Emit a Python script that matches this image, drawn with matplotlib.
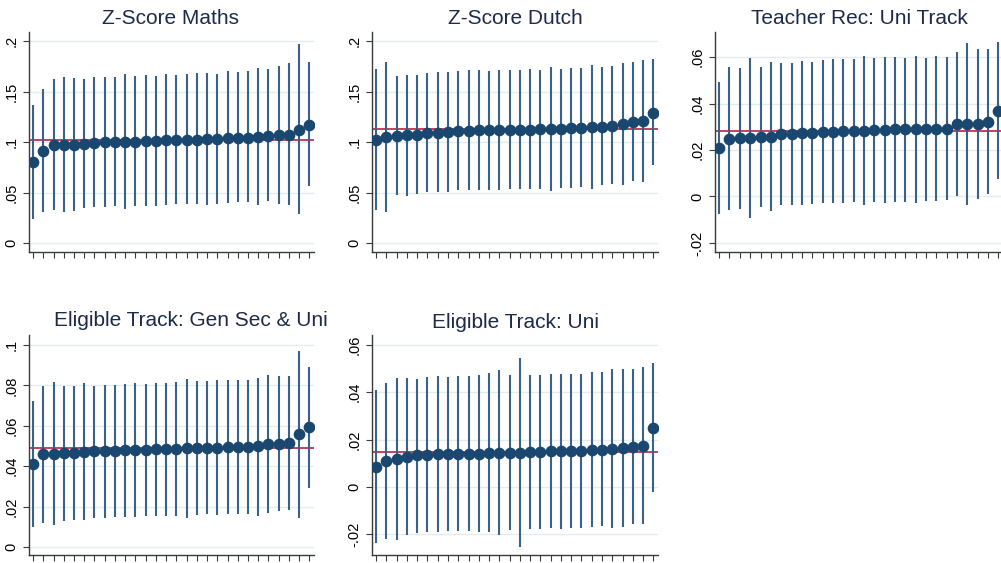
import numpy as np
import matplotlib
matplotlib.use("Agg")
import matplotlib.pyplot as plt

plt.rcParams['font.family'] = ['Liberation Sans', 'DejaVu Sans']

# Z-Score Maths
maths_est = [0.0801, 0.0913, 0.0969, 0.0972, 0.0975, 0.0982, 0.0995, 0.0998, 0.1002, 0.1005,
             0.1005, 0.1008, 0.1008, 0.1018, 0.1018, 0.1021, 0.1025, 0.1028, 0.1028, 0.1041,
             0.1041, 0.1041, 0.1054, 0.1061, 0.1068, 0.1074, 0.1124, 0.1173]
maths_lo = [0.0237, 0.0306, 0.0323, 0.0303, 0.0320, 0.0343, 0.0353, 0.0356, 0.0362, 0.0339,
            0.0362, 0.0366, 0.0369, 0.0379, 0.0382, 0.0382, 0.0382, 0.0379, 0.0389, 0.0395,
            0.0402, 0.0402, 0.0379, 0.0412, 0.0389, 0.0379, 0.0287, 0.0560]
maths_hi = [0.1367, 0.1526, 0.1621, 0.1647, 0.1638, 0.1624, 0.1641, 0.1647, 0.1647, 0.1674,
            0.1654, 0.1661, 0.1657, 0.1671, 0.1667, 0.1677, 0.1684, 0.1684, 0.1677, 0.1700,
            0.1694, 0.1700, 0.1730, 0.1723, 0.1756, 0.1779, 0.1970, 0.1789]
maths_ref = 0.1021

# Z-Score Dutch
dutch_est = [0.1021, 0.1048, 0.1061, 0.1068, 0.1074, 0.1094, 0.1094, 0.1100, 0.1114, 0.1114,
             0.1117, 0.1117, 0.1120, 0.1120, 0.1124, 0.1124, 0.1127, 0.1130, 0.1130, 0.1137,
             0.1143, 0.1147, 0.1150, 0.1163, 0.1176, 0.1199, 0.1206, 0.1292]
dutch_lo = [0.0323, 0.0310, 0.0474, 0.0468, 0.0481, 0.0501, 0.0501, 0.0507, 0.0527, 0.0527,
            0.0527, 0.0527, 0.0527, 0.0534, 0.0534, 0.0534, 0.0534, 0.0517, 0.0544, 0.0547,
            0.0554, 0.0534, 0.0570, 0.0580, 0.0573, 0.0610, 0.0600, 0.0771]
dutch_hi = [0.1720, 0.1789, 0.1651, 0.1667, 0.1667, 0.1684, 0.1694, 0.1694, 0.1703, 0.1710,
            0.1713, 0.1707, 0.1713, 0.1713, 0.1717, 0.1720, 0.1713, 0.1743, 0.1720, 0.1730,
            0.1733, 0.1763, 0.1743, 0.1756, 0.1786, 0.1792, 0.1812, 0.1819]
dutch_ref = 0.1133

# Teacher Rec: Uni Track
teach_est = [0.0208, 0.0247, 0.0250, 0.0250, 0.0254, 0.0258, 0.0267, 0.0267, 0.0273, 0.0273,
             0.0277, 0.0278, 0.0281, 0.0284, 0.0284, 0.0286, 0.0286, 0.0289, 0.0289, 0.0289,
             0.0289, 0.0291, 0.0291, 0.0310, 0.0311, 0.0311, 0.0320, 0.0370]
teach_lo = [-0.0076, -0.0060, -0.0055, -0.0093, -0.0047, -0.0063, -0.0037, -0.0036, -0.0037, -0.0033,
            -0.0030, -0.0029, -0.0027, -0.0024, -0.0037, -0.0023, -0.0027, -0.0023, -0.0022, -0.0029,
            -0.0020, -0.0020, -0.0017, 0.0000, -0.0036, -0.0010, 0.0010, 0.0075]
teach_hi = [0.0494, 0.0557, 0.0554, 0.0596, 0.0557, 0.0581, 0.0576, 0.0576, 0.0584, 0.0581,
            0.0586, 0.0590, 0.0591, 0.0591, 0.0603, 0.0594, 0.0599, 0.0599, 0.0596, 0.0603,
            0.0597, 0.0603, 0.0600, 0.0623, 0.0660, 0.0633, 0.0634, 0.0667]
teach_ref = 0.0281

# Eligible Track: Gen Sec & Uni
gsu_est = [0.0413, 0.0460, 0.0461, 0.0463, 0.0466, 0.0471, 0.0473, 0.0473, 0.0473, 0.0478,
           0.0478, 0.0479, 0.0483, 0.0483, 0.0484, 0.0489, 0.0489, 0.0491, 0.0491, 0.0493,
           0.0496, 0.0496, 0.0498, 0.0511, 0.0512, 0.0514, 0.0559, 0.0593]
gsu_lo = [0.0099, 0.0121, 0.0107, 0.0129, 0.0132, 0.0132, 0.0145, 0.0144, 0.0147, 0.0150,
          0.0147, 0.0152, 0.0154, 0.0154, 0.0155, 0.0144, 0.0159, 0.0162, 0.0160, 0.0162,
          0.0165, 0.0165, 0.0155, 0.0169, 0.0177, 0.0185, 0.0144, 0.0294]
gsu_hi = [0.0722, 0.0797, 0.0815, 0.0797, 0.0797, 0.0813, 0.0798, 0.0802, 0.0800, 0.0808,
          0.0810, 0.0808, 0.0813, 0.0813, 0.0815, 0.0833, 0.0820, 0.0820, 0.0825, 0.0825,
          0.0826, 0.0826, 0.0836, 0.0850, 0.0846, 0.0845, 0.0972, 0.0891]
gsu_ref = 0.0491

# Eligible Track: Uni
uni_est = [0.0085, 0.0109, 0.0116, 0.0127, 0.0133, 0.0136, 0.0137, 0.0137, 0.0138, 0.0140,
           0.0140, 0.0143, 0.0143, 0.0143, 0.0145, 0.0147, 0.0147, 0.0150, 0.0150, 0.0150,
           0.0150, 0.0155, 0.0157, 0.0161, 0.0164, 0.0169, 0.0174, 0.0250]
uni_lo = [-0.0236, -0.0219, -0.0223, -0.0205, -0.0193, -0.0192, -0.0191, -0.0188, -0.0186, -0.0186,
          -0.0191, -0.0191, -0.0205, -0.0181, -0.0254, -0.0178, -0.0178, -0.0175, -0.0176, -0.0175,
          -0.0175, -0.0169, -0.0165, -0.0172, -0.0169, -0.0155, -0.0155, -0.0021]
uni_hi = [0.0409, 0.0438, 0.0459, 0.0459, 0.0457, 0.0463, 0.0467, 0.0466, 0.0467, 0.0469,
          0.0474, 0.0480, 0.0493, 0.0472, 0.0546, 0.0472, 0.0473, 0.0476, 0.0477, 0.0477,
          0.0477, 0.0486, 0.0487, 0.0497, 0.0498, 0.0497, 0.0505, 0.0524]
uni_ref = 0.0147

titles = ["Z-Score Maths", "Z-Score Dutch", "Teacher Rec: Uni Track",
          "Eligible Track: Gen Sec & Uni", "Eligible Track: Uni"]
ticks_a = [0, 0.05, 0.1, 0.15, 0.2]
labels_a = ["0", ".05", ".1", ".15", ".2"]
ticks_b = [-0.02, 0, 0.02, 0.04, 0.06]
labels_b = ["-.02", "0", ".02", ".04", ".06"]
ticks_c = [0, 0.02, 0.04, 0.06, 0.08, 0.1]
labels_c = ["0", ".02", ".04", ".06", ".08", ".1"]

W, H = 1001, 563

# (left, right, top, bottom) in pixels, ylim, ticks, labels, title centre x/y in pixels
panels = [
    (maths_est, maths_lo, maths_hi, maths_ref, (29, 314, 32, 252), (-0.0089, 0.209), ticks_a, labels_a, (171, 18)),
    (dutch_est, dutch_lo, dutch_hi, dutch_ref, (372, 658, 32, 252), (-0.0089, 0.209), ticks_a, labels_a, (515, 18)),
    (teach_est, teach_lo, teach_hi, teach_ref, (715, 1003, 32, 252), (-0.0239, 0.0708), ticks_b, labels_b, (859, 18)),
    (gsu_est, gsu_lo, gsu_hi, gsu_ref, (29, 314, 335, 555), (-0.004, 0.105), ticks_c, labels_c, (191, 320)),
    (uni_est, uni_lo, uni_hi, uni_ref, (372, 658, 335, 555), (-0.0288, 0.0642), ticks_b, labels_b, (515, 322)),
]

navy = '#1a476f'
bar_col = '#3a6288'
ref_col = '#cc3d5c'
axis_col = '#3a3a3a'

fig = plt.figure(figsize=(W / 100, H / 100), dpi=100)

for i, (est, lo, hi, ref, box, ylim, ticks, labels, tpos) in enumerate(panels):
    l, r, t, b = box
    ax = fig.add_axes([l / W, 1 - b / H, (r - l) / W, (b - t) / H])
    x = np.arange(1, len(est) + 1)

    ax.axhline(ref, color=ref_col, lw=1.4, zorder=2)
    ax.vlines(x, lo, hi, color=bar_col, lw=1.5, zorder=3)
    ax.plot(x, est, 'o', color=navy, markersize=7.4, zorder=4)

    ax.set_xlim(0.6, len(est) + 0.45)
    ax.set_ylim(*ylim)
    ax.set_xticks(x)
    ax.set_xticklabels([])
    ax.set_yticks(ticks)
    ax.set_yticklabels(labels, rotation=90, va='center', fontsize=10.5)
    ax.yaxis.grid(True, color='#e3ecee', lw=1.0, zorder=0)
    ax.set_axisbelow(True)

    for s in ['top', 'right']:
        ax.spines[s].set_visible(False)
    for s in ['left', 'bottom']:
        ax.spines[s].set_color(axis_col)
        ax.spines[s].set_linewidth(1.0)
    ax.tick_params(axis='both', direction='out', length=4.3, width=0.8, color=axis_col, pad=3)

    fig.text(tpos[0] / W, 1 - tpos[1] / H, titles[i], ha='center', va='center',
             fontsize=15, color='#1c2b4b')

fig.savefig("out.png", dpi=100)
